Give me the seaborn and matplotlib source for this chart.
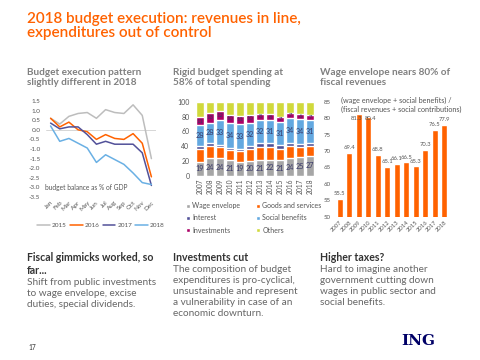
import numpy as np
import pandas as pd
import matplotlib
matplotlib.use("Agg")
import matplotlib.pyplot as plt
import seaborn as sns

sns.set_theme(style="white")
plt.rcParams['font.family'] = ['Lato', 'DejaVu Sans']
plt.rcParams['axes.unicode_minus'] = False

# ---------------- data ----------------
months = ["Jan", "Feb", "Mar", "Apr", "May", "Jun", "Jul", "Aug", "Sep", "Oct", "Nov", "Dec"]
bal_2015 = [0.6, 0.3, 0.7, 0.85, 0.9, 0.6, 1.05, 0.9, 0.85, 1.3, 0.75, -1.5]
bal_2016 = [0.6, 0.15, 0.4, 0.0, -0.1, -0.5, -0.25, -0.45, -0.5, -0.2, -0.7, -2.45]
bal_2017 = [0.35, 0.05, 0.15, 0.15, -0.25, -0.75, -0.6, -0.75, -0.75, -0.75, -1.2, -2.9]
bal_2018 = [0.2, -0.6, -0.45, -0.7, -0.95, -1.7, -1.3, -1.55, -1.8, -2.25, -2.75, -2.85]
bal_years = ["2015", "2016", "2017", "2018"]

years = ["2007", "2008", "2009", "2010", "2011", "2012", "2013", "2014", "2015", "2016", "2017", "2018"]
wage_env = [19, 24, 24, 21, 19, 20, 21, 22, 21, 24, 25, 27]
goods = [18, 17, 15, 14, 15, 16, 18, 17, 16, 16, 14, 13]
interest = [3, 3, 3, 3, 3, 4, 5, 5, 5, 4, 4, 4]
social = [28, 28, 33, 34, 33, 32, 32, 31, 31, 34, 34, 31]
investments = [11, 13, 12, 10, 11, 10, 8, 8, 7, 7, 6, 7]
others = [21, 15, 13, 18, 19, 18, 16, 17, 20, 15, 17, 18]
comp_names = ["Wage envelope", "Goods and services", "Interest", "Social benefits", "Investments", "Others"]

wage_ratio = [55.5, 69.4, 81.3, 80.4, 68.8, 65.1, 66.1, 66.5, 65.3, 70.3, 76.5, 77.9]

# ---------------- styles ----------------
ORANGE = "#FF6200"
comp_colors = ["#A6A6A6", "#FF6200", "#525199", "#63A8E0", "#AB0066", "#D0D93C"]
line_colors = {"2015": "#BDBDBD", "2016": "#FF6200", "2017": "#525199", "2018": "#6AB0E4"}
TXT = "#666666"

W, H = 480, 360
fig = plt.figure(figsize=(4.8, 3.6), dpi=100)
fig.patch.set_facecolor("white")


def ax_px(x0, y0, x1, y1):
    return fig.add_axes([x0 / W, 1 - y1 / H, (x1 - x0) / W, (y1 - y0) / H])


def ftext(x, y, s, **kw):
    fig.text(x / W, 1 - y / H, s, **kw)


# titles
ftext(27, 12, "2018 budget execution: revenues in line,\nexpenditures out of control",
      color=ORANGE, fontsize=11, fontweight="semibold", va="top", linespacing=1.0)
ftext(27, 68, "Budget execution pattern\nslightly different in 2018", color="#808080",
      fontsize=7.2, fontweight="bold", va="top", linespacing=1.15)
ftext(173, 68, "Rigid budget spending at\n58% of total spending", color="#808080",
      fontsize=7.2, fontweight="bold", va="top", linespacing=1.15)
ftext(320, 68, "Wage envelope nears 80% of\nfiscal revenues", color="#808080",
      fontsize=7.2, fontweight="bold", va="top", linespacing=1.15)

# ---------------- line chart ----------------
ax1 = ax_px(46, 101, 156, 197)
rows = []
for yr, vals in zip(bal_years, [bal_2015, bal_2016, bal_2017, bal_2018]):
    for i, v in enumerate(vals):
        rows.append({"year": yr, "m": i, "val": v})
df_bal = pd.DataFrame(rows)
ax1.axhline(0, color="#D0D0D0", lw=0.6, zorder=0)
sns.lineplot(data=df_bal, x="m", y="val", hue="year", palette=line_colors, lw=1.1, ax=ax1, legend=True)
ax1.set_xlim(-0.5, 11.5)
ax1.set_ylim(-3.5, 1.5)
ax1.set_yticks(np.arange(-3.5, 1.51, 0.5))
ax1.set_yticklabels([f"{v:.1f}" for v in np.arange(-3.5, 1.51, 0.5)])
ax1.set_xticks(range(12))
ax1.set_xticklabels(months, rotation=45, ha="right", rotation_mode="anchor")
ax1.tick_params(axis="both", labelsize=4.6, colors="#555555", length=0, pad=2)
ax1.tick_params(axis="y", pad=4)
for s in ax1.spines.values():
    s.set_visible(False)
ax1.set_xlabel("")
ax1.set_ylabel("")
ax1.set_facecolor("none")
ax1.text(-0.6, -3.0, "budget balance as % of GDP", fontsize=4.8, color="#555555", va="center")
h, l = ax1.get_legend_handles_labels()
ax1.legend(h, l, loc="center", bbox_to_anchor=(101 / W, 1 - 225 / H), bbox_transform=fig.transFigure,
           ncol=4, fontsize=4.6, frameon=False, handlelength=2.0, columnspacing=0.5, handletextpad=0.3,
           labelcolor="#555555")

# ---------------- stacked bar chart ----------------
ax2 = ax_px(195, 101.7, 315, 176)
comps = [wage_env, goods, interest, social, investments, others]
cums = np.cumsum(np.array(comps, dtype=float), axis=0)
df_comp = pd.DataFrame({"year": years})
for name, c in zip(comp_names, cums):
    df_comp[name] = c
for k in range(5, -1, -1):
    sns.barplot(data=df_comp, x="year", y=comp_names[k], color=comp_colors[k], width=0.72,
                saturation=1, ax=ax2, label=comp_names[k], zorder=2)
ax2.set_ylim(0, 100)
ax2.set_yticks(range(0, 101, 20))
ax2.tick_params(axis="y", labelsize=5, colors="#555555", length=0, pad=4)
ax2.tick_params(axis="x", labelsize=4.8, colors="#555555", length=0, pad=2, rotation=90)
for s in ax2.spines.values():
    s.set_visible(False)
ax2.set_xlabel("")
ax2.set_ylabel("")
ax2.set_facecolor("none")
base = np.zeros(12)
lbl_idx = {0: 5.2, 3: 5.2, 4: 4.2}
for k, vals in enumerate(comps):
    vals = np.array(vals, dtype=float)
    if k in lbl_idx:
        for i, v in enumerate(vals):
            ax2.text(i, base[i] + v / 2, f"{int(v)}", ha="center", va="center",
                     fontsize=lbl_idx[k], color="#3A3A6A", zorder=5)
    base = base + vals
hs, ls = ax2.get_legend_handles_labels()
hmap = dict(zip(ls, hs))
order = ["Wage envelope", "Interest", "Investments", "Goods and services", "Social benefits", "Others"]
ax2.legend([hmap[o] for o in order], order, loc="upper left",
           bbox_to_anchor=(180 / W, 1 - 196 / H), bbox_transform=fig.transFigure,
           ncol=2, fontsize=5, frameon=False, handlelength=0.6, handleheight=0.6,
           handletextpad=0.3, columnspacing=2.2, labelspacing=0.75, labelcolor="#555555")

# ---------------- wage ratio bar chart ----------------
ax3 = ax_px(335, 101.7, 449, 216.7)
df_w = pd.DataFrame({"year": years, "ratio": wage_ratio})
sns.barplot(data=df_w, x="year", y="ratio", color=ORANGE, saturation=1, width=0.58, ax=ax3)
ax3.set_ylim(50, 85)
ax3.set_yticks(range(50, 86, 5))
ax3.tick_params(axis="y", labelsize=4.4, colors="#555555", length=0, pad=3)
ax3.set_xticks(range(12))
ax3.set_xticklabels(years, rotation=45, ha="right", rotation_mode="anchor")
ax3.tick_params(axis="x", labelsize=4.2, colors="#555555", length=0, pad=2)
for s in ax3.spines.values():
    s.set_visible(False)
ax3.set_xlabel("")
ax3.set_ylabel("")
ax3.set_facecolor("none")
for i, v in enumerate(wage_ratio):
    ly = min(v + 0.8, 79.0)
    dx = 0.0
    if v > 80.8:
        dx = -0.2
    elif v > 79.5:
        dx = 0.25
    ax3.text(i + dx, ly, f"{v:.1f}", ha="center", va="bottom", fontsize=4.2, color="#555555", zorder=5)
ftext(341, 97, "(wage envelope + social benefits) /\n(fiscal revenues + social contributions)",
      fontsize=5.2, color="#555555", va="top", linespacing=1.2)

# ---------------- bottom text ----------------
HEAD = "#333333"
ftext(27, 252, "Fiscal gimmicks worked, so\nfar...", fontsize=7.6, fontweight="bold", color=HEAD,
      va="top", linespacing=1.25)
ftext(27, 278, "Shift from public investments\nto wage envelope, excise\nduties, special dividends.",
      fontsize=7.2, color=TXT, va="top", linespacing=1.3)
ftext(173, 252, "Investments cut", fontsize=7.6, fontweight="bold", color=HEAD, va="top")
ftext(173, 265, "The composition of budget\nexpenditures is pro-cyclical,\nunsustainable and represent\n"
      "a vulnerability in case of an\neconomic downturn.", fontsize=7.2, color=TXT, va="top", linespacing=1.3)
ftext(320, 252, "Higher taxes?", fontsize=7.6, fontweight="bold", color=HEAD, va="top")
ftext(320, 265, "Hard to imagine another\ngovernment cutting down\nwages in public sector and\nsocial benefits.",
      fontsize=7.2, color=TXT, va="top", linespacing=1.3)

ftext(28, 347, "17", fontsize=4.8, color="#333333", va="center")
ftext(401, 341, "ING", fontsize=11, fontweight="bold", color="#000066", va="center",
      family=["DejaVu Serif"])

fig.savefig("out.png", dpi=100, facecolor="white")
